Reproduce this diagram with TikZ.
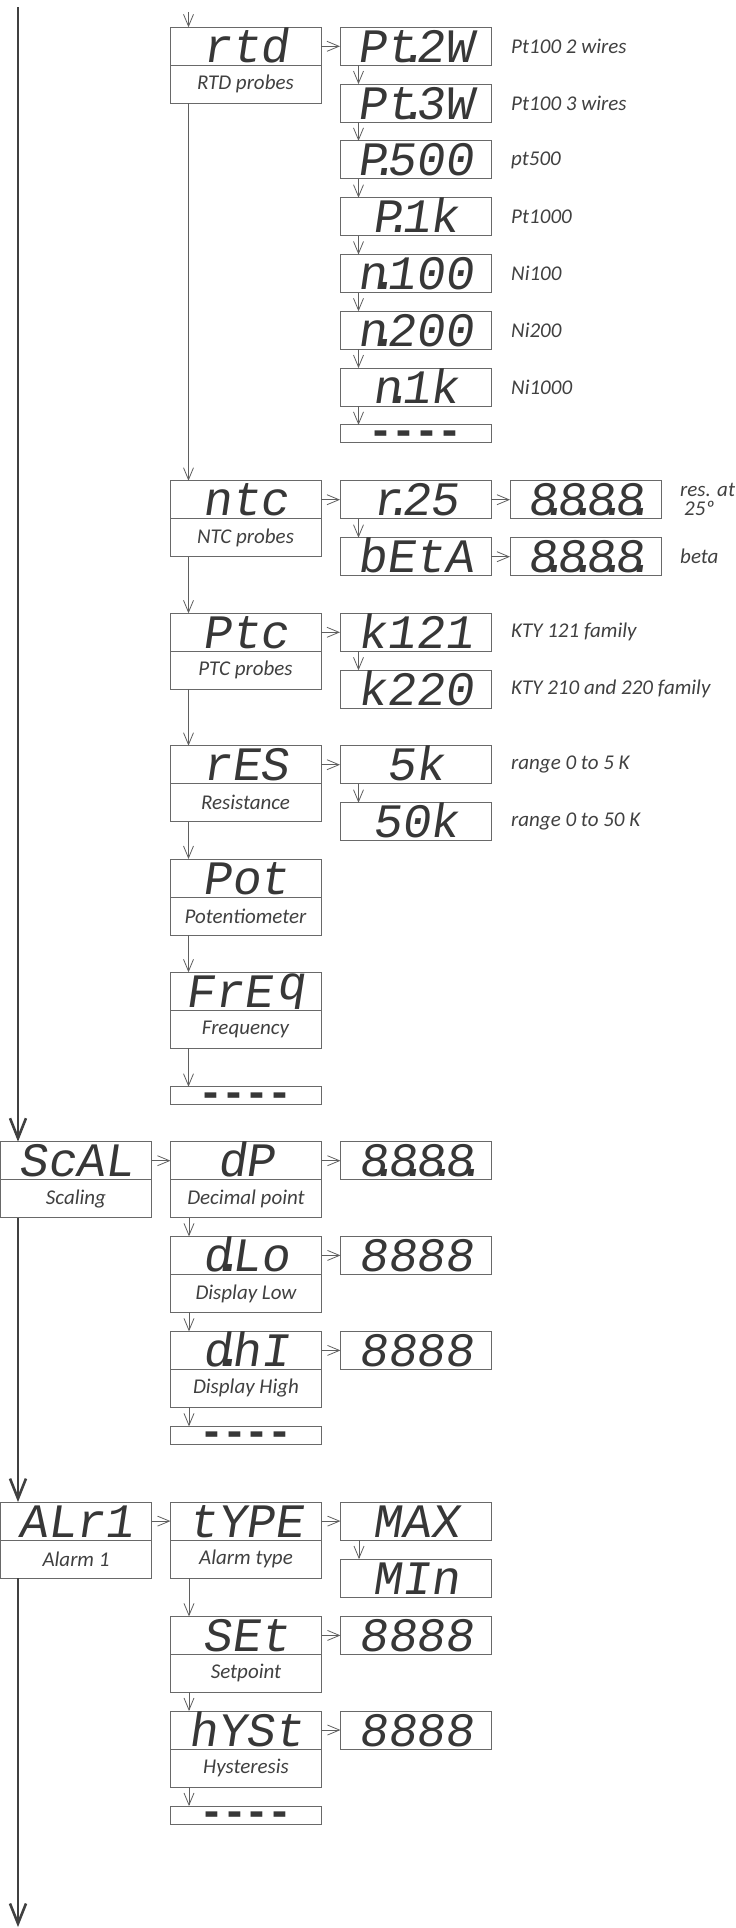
\documentclass[tikz,border=0pt]{standalone}
\usepackage{fontspec}
\usepackage{tikz}
\usetikzlibrary{arrows.meta, positioning, calc}

\newfontfamily\segfont[FakeSlant=0.15]{Liberation Mono}
\newfontfamily\dashfont[LetterSpace=20]{DejaVu Sans Mono}
\newfontfamily\lblfont{Carlito}

\definecolor{boxgray}{RGB}{105,105,105}
\definecolor{seggray}{RGB}{55,55,55}
\definecolor{lblgray}{RGB}{64,64,64}
\definecolor{linegray}{RGB}{95,95,95}
\definecolor{maingray}{RGB}{64,64,64}

% decimal point of the display, takes no digit place
\newcommand\sdot{\kern-.36em.\kern-.24em}
\newcommand\segdashes{\raisebox{-10.5pt}[2pt][2pt]{\bfseries -\kern0pt-\kern0pt-\kern0pt-}}

\begin{document}
\begin{tikzpicture}[
        x=1pt, y=-1pt,
        >={Straight Barb[length=12pt,width=10pt]},
        seg/.style={
            draw=boxgray, line width=0.9pt, outer sep=0pt,
            minimum width=151pt, minimum height=38pt, inner sep=3pt,
            text height=32pt, text depth=0pt, text=seggray,
            font=\segfont\fontsize{48pt}{48pt}\selectfont
        },
        lbl/.style={
            draw=boxgray, line width=0.9pt, outer sep=0pt,
            minimum width=151pt, minimum height=38pt, inner sep=0pt,
            text=lblgray, font=\lblfont\itshape\fontsize{21pt}{19pt}\selectfont
        },
        dashes/.style={
            draw=boxgray, line width=0.9pt, outer sep=0pt,
            minimum width=151pt, minimum height=18pt, inner sep=0pt,
            text=seggray, font=\dashfont\fontsize{38pt}{38pt}\selectfont
        },
        note/.style={inner sep=0pt, align=left, text=lblgray,
            font=\lblfont\itshape\fontsize{21pt}{19pt}\selectfont},
        arrow/.style={->, line width=0.8pt, color=linegray},
        mainline/.style={-{Straight Barb[length=20pt,width=16pt]}, line width=2.6pt, color=maingray}
    ]
    \useasboundingbox (0,0) rectangle (736,1928);

    % --- Input type ---
    \node[seg] (rtd) at (245.5,46.3) {rtd};
    \node[lbl, below=0pt of rtd] (rtdl) {RTD probes};
    \node[seg, below=377.4pt of rtdl] (ntc) {ntc};
    \node[lbl, below=0pt of ntc] (ntcl) {NTC probes};
    \node[seg, below=56.6pt of ntcl] (ptc) {Ptc};
    \node[lbl, below=0pt of ptc] (ptcl) {PTC probes};
    \node[seg, below=56.4pt of ptcl] (res) {rES};
    \node[lbl, below=0pt of res] (resl) {Resistance};
    \node[seg, below=37.3pt of resl] (pot) {Pot};
    \node[lbl, below=0pt of pot] (potl) {Potentiometer};
    \node[seg, below=37.3pt of potl] (freq) {FrE\kern4pt\raisebox{8pt}{q}};
    \node[lbl, below=0pt of freq] (freql) {Frequency};
    \node[dashes, below=38.4pt of freql] (inend) {\segdashes};

    % --- RTD probes ---
    \node[seg, right=19pt of rtd] (pt2w) {Pt\sdot 2W};
    \node[seg, below=18.8pt of pt2w] (pt3w) {Pt\sdot 3W};
    \node[seg, below=18.8pt of pt3w] (p500) {P\sdot 500};
    \node[seg, below=18.8pt of p500] (p1k) {P\sdot 1k};
    \node[seg, below=18.8pt of p1k] (n100) {n\sdot 100};
    \node[seg, below=18.8pt of n100] (n200) {n\sdot 200};
    \node[seg, below=18.8pt of n200] (n1k) {n\sdot 1k};
    \node[dashes, below=18.8pt of n1k] (rtdend) {\segdashes};

    \node[note, right=20pt of pt2w] (pt2wn) {Pt100 2 wires};
    \node[note, right=20pt of pt3w] (pt3wn) {Pt100 3 wires};
    \node[note, right=20pt of p500] (p500n) {pt500};
    \node[note, right=20pt of p1k] (p1kn) {Pt1000};
    \node[note, right=20pt of n100] (n100n) {Ni100};
    \node[note, right=20pt of n200] (n200n) {Ni200};
    \node[note, right=20pt of n1k] (n1kn) {Ni1000};

    % --- NTC probes ---
    \node[seg, right=19pt of ntc] (r25) {r\sdot 25};
    \node[seg, right=19pt of r25] (r25v) {8\sdot 8\sdot 8\sdot 8\sdot};
    \node[note, right=19pt of r25v] (r25n) {res. at\\\hspace*{4pt}25º};
    \node[seg, below=19pt of r25] (beta) {bEtA};
    \node[seg, right=19pt of beta] (betav) {8\sdot 8\sdot 8\sdot 8\sdot};
    \node[note, right=19pt of betav] (betan) {beta};

    % --- PTC probes ---
    \node[seg, right=19pt of ptc] (k121) {k121};
    \node[seg, below=19pt of k121] (k220) {k220};
    \node[note, right=20pt of k121] (k121n) {KTY 121 family};
    \node[note, right=20pt of k220] (k220n) {KTY 210 and 220 family};

    % --- Resistance ---
    \node[seg, right=19pt of res] (k5) {5k};
    \node[seg, below=19pt of k5] (k50) {50k};
    \node[note, right=20pt of k5] (k5n) {range 0 to 5 K};
    \node[note, right=20pt of k50] (k50n) {range 0 to 50 K};

    % --- Scaling ---
    \node[seg] (scal) at (76,1160.7) {ScAL};
    \node[lbl, below=0pt of scal] (scall) {Scaling};
    \node[seg, right=19pt of scal] (dp) {dP};
    \node[lbl, below=0pt of dp] (dpl) {Decimal point};
    \node[seg, right=19pt of dp] (dpv) {8\sdot 8\sdot 8\sdot 8\sdot};
    \node[seg, below=18.7pt of dpl] (dlo) {d\sdot Lo};
    \node[lbl, below=0pt of dlo] (dlol) {Display Low};
    \node[seg, right=19pt of dlo] (dlov) {8888};
    \node[seg, below=19pt of dlol] (dhi) {d\sdot hI};
    \node[lbl, below=0pt of dhi] (dhil) {Display High};
    \node[seg, right=19pt of dhi] (dhiv) {8888};
    \node[dashes, below=19pt of dhil] (scalend) {\segdashes};

    % --- Alarm 1 ---
    \node[seg, below=284.4pt of scall] (alr1) {ALr1};
    \node[lbl, below=0pt of alr1] (alr1l) {Alarm 1};
    \node[seg, right=19pt of alr1] (type) {tYPE};
    \node[lbl, below=0pt of type] (typel) {Alarm type};
    \node[seg, right=19pt of type] (max) {MAX};
    \node[seg, below=19pt of max] (min) {MIn};
    \node[seg, below=38.3pt of typel] (set) {SEt};
    \node[lbl, below=0pt of set] (setl) {Setpoint};
    \node[seg, right=19pt of set] (setv) {8888};
    \node[seg, below=18.6pt of setl] (hyst) {hYSt};
    \node[lbl, below=0pt of hyst] (hystl) {Hysteresis};
    \node[seg, right=19pt of hyst] (hystv) {8888};
    \node[dashes, below=19pt of hystl] (alrend) {\segdashes};

    % --- Main menu line ---
    \coordinate (mtop) at (18,7);
    \coordinate (mbot) at (18,1927);
    \draw[mainline] (mtop) -- ([xshift=17.5pt]scal.north west);
    \draw[mainline] ([xshift=17.5pt]scall.south west) -- ([xshift=17.5pt]alr1.north west);
    \draw[mainline] ([xshift=17.5pt]alr1l.south west) -- (mbot);

    % --- Connections ---
    \coordinate (intop) at (188.5,12);
    \draw[arrow] (intop) -- ([xshift=18.5pt]rtd.north west);
    \draw[arrow] ([xshift=18.5pt]rtdl.south west) -- ([xshift=18.5pt]ntc.north west);
    \draw[arrow] ([xshift=18.5pt]ntcl.south west) -- ([xshift=18.5pt]ptc.north west);
    \draw[arrow] ([xshift=18.5pt]ptcl.south west) -- ([xshift=18.5pt]res.north west);
    \draw[arrow] ([xshift=18.5pt]resl.south west) -- ([xshift=18.5pt]pot.north west);
    \draw[arrow] ([xshift=18.5pt]potl.south west) -- ([xshift=18.5pt]freq.north west);
    \draw[arrow] ([xshift=18.5pt]freql.south west) -- ([xshift=18.5pt]inend.north west);

    \draw[arrow] (rtd) -- (pt2w);
    \draw[arrow] ([xshift=18.5pt]pt2w.south west) -- ([xshift=18.5pt]pt3w.north west);
    \draw[arrow] ([xshift=18.5pt]pt3w.south west) -- ([xshift=18.5pt]p500.north west);
    \draw[arrow] ([xshift=18.5pt]p500.south west) -- ([xshift=18.5pt]p1k.north west);
    \draw[arrow] ([xshift=18.5pt]p1k.south west) -- ([xshift=18.5pt]n100.north west);
    \draw[arrow] ([xshift=18.5pt]n100.south west) -- ([xshift=18.5pt]n200.north west);
    \draw[arrow] ([xshift=18.5pt]n200.south west) -- ([xshift=18.5pt]n1k.north west);
    \draw[arrow] ([xshift=18.5pt]n1k.south west) -- ([xshift=18.5pt]rtdend.north west);

    \draw[arrow] (ntc) -- (r25);
    \draw[arrow] (r25) -- (r25v);
    \draw[arrow] ([xshift=18.5pt]r25.south west) -- ([xshift=18.5pt]beta.north west);
    \draw[arrow] (beta) -- (betav);

    \draw[arrow] (ptc) -- (k121);
    \draw[arrow] ([xshift=18.5pt]k121.south west) -- ([xshift=18.5pt]k220.north west);
    \draw[arrow] (res) -- (k5);
    \draw[arrow] ([xshift=18.5pt]k5.south west) -- ([xshift=18.5pt]k50.north west);

    \draw[arrow] (scal) -- (dp);
    \draw[arrow] (dp) -- (dpv);
    \draw[arrow] ([xshift=18.5pt]dpl.south west) -- ([xshift=18.5pt]dlo.north west);
    \draw[arrow] (dlo) -- (dlov);
    \draw[arrow] ([xshift=18.5pt]dlol.south west) -- ([xshift=18.5pt]dhi.north west);
    \draw[arrow] (dhi) -- (dhiv);
    \draw[arrow] ([xshift=18.5pt]dhil.south west) -- ([xshift=18.5pt]scalend.north west);

    \draw[arrow] (alr1) -- (type);
    \draw[arrow] (type) -- (max);
    \draw[arrow] ([xshift=18.5pt]max.south west) -- ([xshift=18.5pt]min.north west);
    \draw[arrow] ([xshift=18.5pt]typel.south west) -- ([xshift=18.5pt]set.north west);
    \draw[arrow] (set) -- (setv);
    \draw[arrow] ([xshift=18.5pt]setl.south west) -- ([xshift=18.5pt]hyst.north west);
    \draw[arrow] (hyst) -- (hystv);
    \draw[arrow] ([xshift=18.5pt]hystl.south west) -- ([xshift=18.5pt]alrend.north west);

\end{tikzpicture}
\end{document}
